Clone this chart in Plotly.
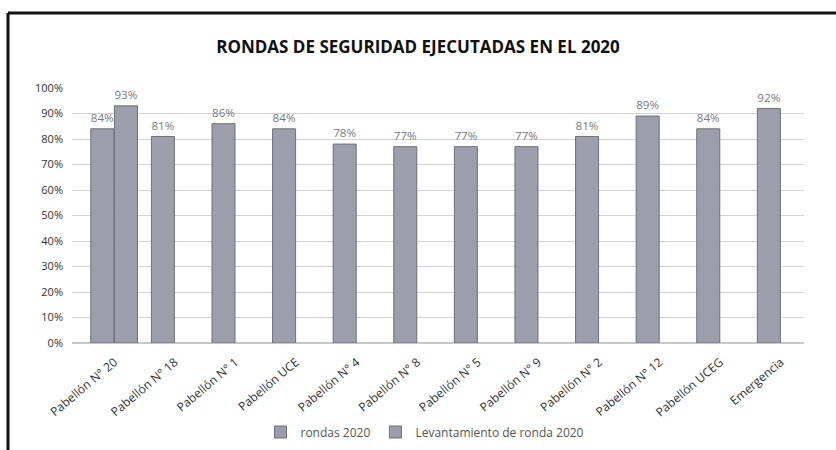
import plotly.graph_objects as go

# Categories and series values (percent)
categorias = [
    "Pabellón N° 20", "Pabellón N° 18", "Pabellón N° 1", "Pabellón UCE",
    "Pabellón N° 4", "Pabellón N° 8", "Pabellón N° 5", "Pabellón N° 9",
    "Pabellón N° 2", "Pabellón N° 12", "Pabellón UCEG", "Emergencia",
]
rondas_2020 = [84, 81, 86, 84, 78, 77, 77, 77, 81, 89, 84, 92]
levantamiento_2020 = [93, None, None, None, None, None, None, None, None, None, None, None]

titulo = "RONDAS DE SEGURIDAD EJECUTADAS EN EL 2020"

W, H = 836, 450
ML, MR, MT, MB = 72, 32, 88, 107
PW, PH = W - ML - MR, H - MT - MB

bar_color = "#9c9fab"
edge_color = "#6d7079"
bar_w = 0.38

fig = go.Figure()
fig.add_trace(go.Bar(
    name="rondas 2020",
    x=categorias, y=rondas_2020,
    width=bar_w,
    marker=dict(color=bar_color, line=dict(color=edge_color, width=1)),
    texttemplate="%{y}", textposition="outside",
    textfont=dict(color="#7a7a80", size=12),
    cliponaxis=False,
))
fig.add_trace(go.Bar(
    name="Levantamiento de ronda 2020",
    x=categorias, y=levantamiento_2020,
    width=bar_w, offset=0.2,
    marker=dict(color=bar_color, line=dict(color=edge_color, width=1)),
    texttemplate="%{y}", textposition="outside",
    textfont=dict(color="#7a7a80", size=12),
    cliponaxis=False,
))

# Frame lines along the top and left edges of the page
frame = dict(color="#111111", width=3)
fx = (8 - ML) / PW
fy_top = (H - MB - 13) / PH
fig.add_shape(type="line", xref="paper", yref="paper",
              x0=fx, x1=(W - ML) / PW, y0=fy_top, y1=fy_top, line=frame)
fig.add_shape(type="line", xref="paper", yref="paper",
              x0=fx, x1=fx, y0=fy_top, y1=-MB / PH, line=frame)

fig.update_layout(
    width=W, height=H,
    margin=dict(l=ML, r=MR, t=MT, b=MB, autoexpand=False),
    paper_bgcolor="white", plot_bgcolor="white",
    barmode="overlay",
    font=dict(family="Open Sans", color="#333333"),
    title=dict(text="<b>" + titulo + "</b>", x=0.5, xanchor="center",
               y=1 - 47 / H, yanchor="middle",
               font=dict(size=17, color="#111111", family="Open Sans")),
    showlegend=True,
    legend=dict(orientation="h", x=(425 - ML) / PW, xanchor="center",
                y=-(432 - (H - MB)) / PH, yanchor="middle", itemwidth=30,
                font=dict(size=12, color="#555555"),
                bgcolor="rgba(0,0,0,0)"),
    xaxis=dict(
        type="category", tickangle=-40, automargin=False,
        tickfont=dict(size=12, color="#333333"),
        showgrid=False, showline=False, ticks="",
        ticklabelstandoff=9, ticklabelshift=12,
    ),
    yaxis=dict(
        range=[0, 100], dtick=10, ticksuffix="%", automargin=False,
        tickfont=dict(size=11, color="#333333"),
        showgrid=True, gridcolor="#d4d4d8", gridwidth=1,
        zeroline=True, zerolinecolor="#c8c8cc",
        showline=False, ticks="", ticklabelstandoff=8,
    ),
)

fig.write_html("out.html")
